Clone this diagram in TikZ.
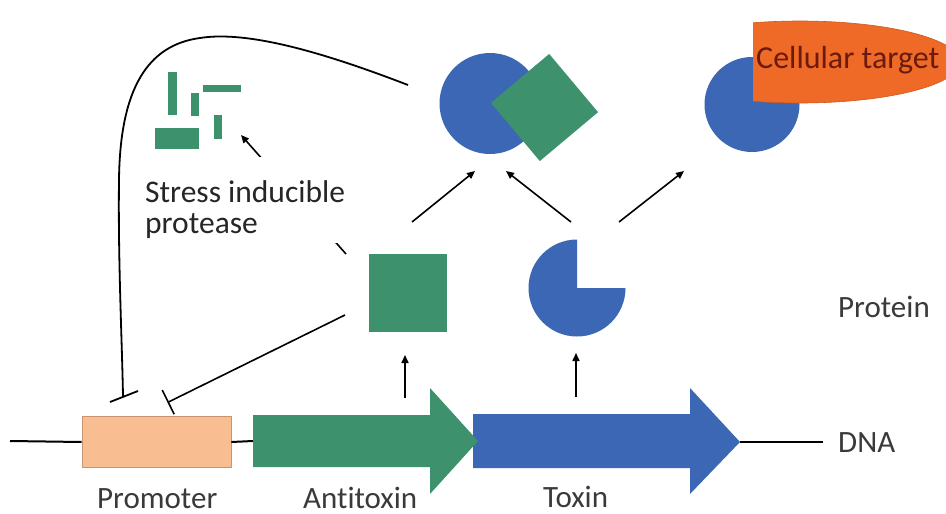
\documentclass[tikz,border=0pt]{standalone}
\usepackage{fontspec}
\setmainfont{Carlito}[RawFeature=-liga]
\usetikzlibrary{arrows.meta,shapes.geometric}
\definecolor{tagreen}{HTML}{3D916C}
\definecolor{tablue}{HTML}{3B67B5}
\definecolor{tapeach}{HTML}{F8BE91}
\definecolor{tapeachdark}{HTML}{C99570}
\definecolor{taorange}{HTML}{EE6A26}
\definecolor{tatext}{HTML}{3A3A3A}
\definecolor{tatarget}{HTML}{6A1A0E}
\tikzset{
  lbl/.style={anchor=base west, inner sep=0pt, text=tatext, font=\fontsize{31}{36}\selectfont},
  dnaline/.style={line width=2pt, black},
  uparrow/.style={line width=1.6pt, -{Triangle[length=8pt,width=7pt]}},
  inhib/.style={line width=1.6pt},
  fragment/.style={fill=tagreen, draw=none},
}
\begin{document}
\begin{tikzpicture}[x=1pt,y=-1pt]
\useasboundingbox (0,0) rectangle (946,514);
\fill[white] (0,0) rectangle (946,514);

% ---------- DNA ----------
\coordinate (dnaL) at (10,441);
\coordinate (dnaR) at (823,442);
\node[draw=tapeachdark, line width=0.8pt, fill=tapeach, minimum width=149pt, minimum height=51pt, inner sep=0pt] (prom) at (156.5,442) {};
\draw[dnaline] (dnaL) -- (prom.west);
\draw[dnaline] (prom.east) -- (253,441);
\draw[dnaline] (740,442) -- (dnaR);
% toxin gene
\fill[tablue] (473,414) -- (690,414) -- (690,388) -- (740,442) -- (690,494) -- (690,468) -- (473,468) -- cycle;
% antitoxin gene
\fill[tagreen] (253,415) -- (430,415) -- (430,388) -- (478,441) -- (430,494) -- (430,467) -- (253,467) -- cycle;

\node[lbl] (tDNA) at (838,452) {DNA};
\node[lbl] (tProm) at (97,508) {Promoter};
\node[lbl] (tAnti) at (303,508) {Antitoxin};
\node[lbl] (tTox) at (543,507) {Toxin};
\node[lbl] (tProt) at (838,317) {Protein};

% ---------- proteins ----------
\node[rectangle, fill=tagreen, minimum size=78pt, inner sep=0pt] (antiP) at (407.5,293) {};
\fill[tablue] (577,288) -- ++(0pt,48.5pt) arc[start angle=90, end angle=360, radius=48.5pt] -- cycle;
\coordinate (toxP) at (577,288);

\coordinate (aUp0) at (405,398); \coordinate (aUp1) at (405,355);
\coordinate (tUp0) at (576,397); \coordinate (tUp1) at (576,353);
\draw[uparrow] (aUp0) -- (aUp1);
\draw[uparrow] (tUp0) -- (tUp1);

% ---------- complex ----------
\node[circle, fill=tablue, minimum size=101pt, inner sep=0pt] (cplxT) at (490,103.5) {};
\node[rectangle, fill=tagreen, minimum size=76pt, inner sep=0pt, rotate=-50] (cplxA) at (544.5,107.5) {};

% ---------- toxin on target ----------
\node[circle, fill=tablue, minimum size=95pt, inner sep=0pt] (freeT) at (752,104.5) {};
\begin{scope}
  \clip (753,0) rectangle (946,514);
  \node[ellipse, fill=taorange, draw=taorange!85!black, line width=0.6pt, minimum width=320pt, minimum height=82pt, inner sep=0pt] (target) at (800,62) {};
\end{scope}
\node[lbl, text=tatarget, font=\fontsize{32}{36}\selectfont] (tTarget) at (756,68) {Cellular target};

% ---------- arrows to complex / target ----------
\coordinate (c1s) at (412,222); \coordinate (c1e) at (475,171);
\coordinate (c2s) at (571,222); \coordinate (c2e) at (506,171);
\coordinate (c3s) at (619,222); \coordinate (c3e) at (684,171);
\draw[uparrow] (c1s) -- (c1e);
\draw[uparrow] (c2s) -- (c2e);
\draw[uparrow] (c3s) -- (c3e);

% ---------- protease fragments ----------
\fill[fragment] (168,72) rectangle (177,115);
\fill[fragment] (191,93) rectangle (199,116);
\fill[fragment] (203,85) rectangle (241,92);
\fill[fragment] (214,115) rectangle (222,139);
\fill[fragment] (155,128) rectangle (199,149);
\coordinate (protS) at (346,254);
\coordinate (protE) at (241,135);
\draw[line width=1.6pt, -{Triangle[length=8pt,width=7pt]}] (protS) -- (protE);

% ---------- inhibition lines ----------
\coordinate (cplxOut) at (408,85);
\coordinate (promHit1) at (123,396);
\draw[inhib, line width=1.8pt] (cplxOut) .. controls (330,55) and (250,30) .. (200,38)
   .. controls (148,45) and (120,88) .. (119,180)
   .. controls (118,260) and (122,340) .. (promHit1);
\draw[inhib, line width=1.8pt] (110,402) -- (138,391);
\coordinate (antiOut) at (345,315);
\coordinate (promHit2) at (167.5,402.5);
\draw[inhib, -{Bar[width=27pt,line width=1.6pt]}] (antiOut) -- (promHit2);

% ---------- label with white box ----------
\fill[white] (140,157) rectangle (395,243);
\node[lbl, text=black!85, font=\fontsize{31.5}{36}\selectfont] (tStress1) at (145,202) {Stress inducible};
\node[lbl, text=black!85, font=\fontsize{31.5}{36}\selectfont] (tStress2) at (145,233) {protease};
\end{tikzpicture}
\end{document}
